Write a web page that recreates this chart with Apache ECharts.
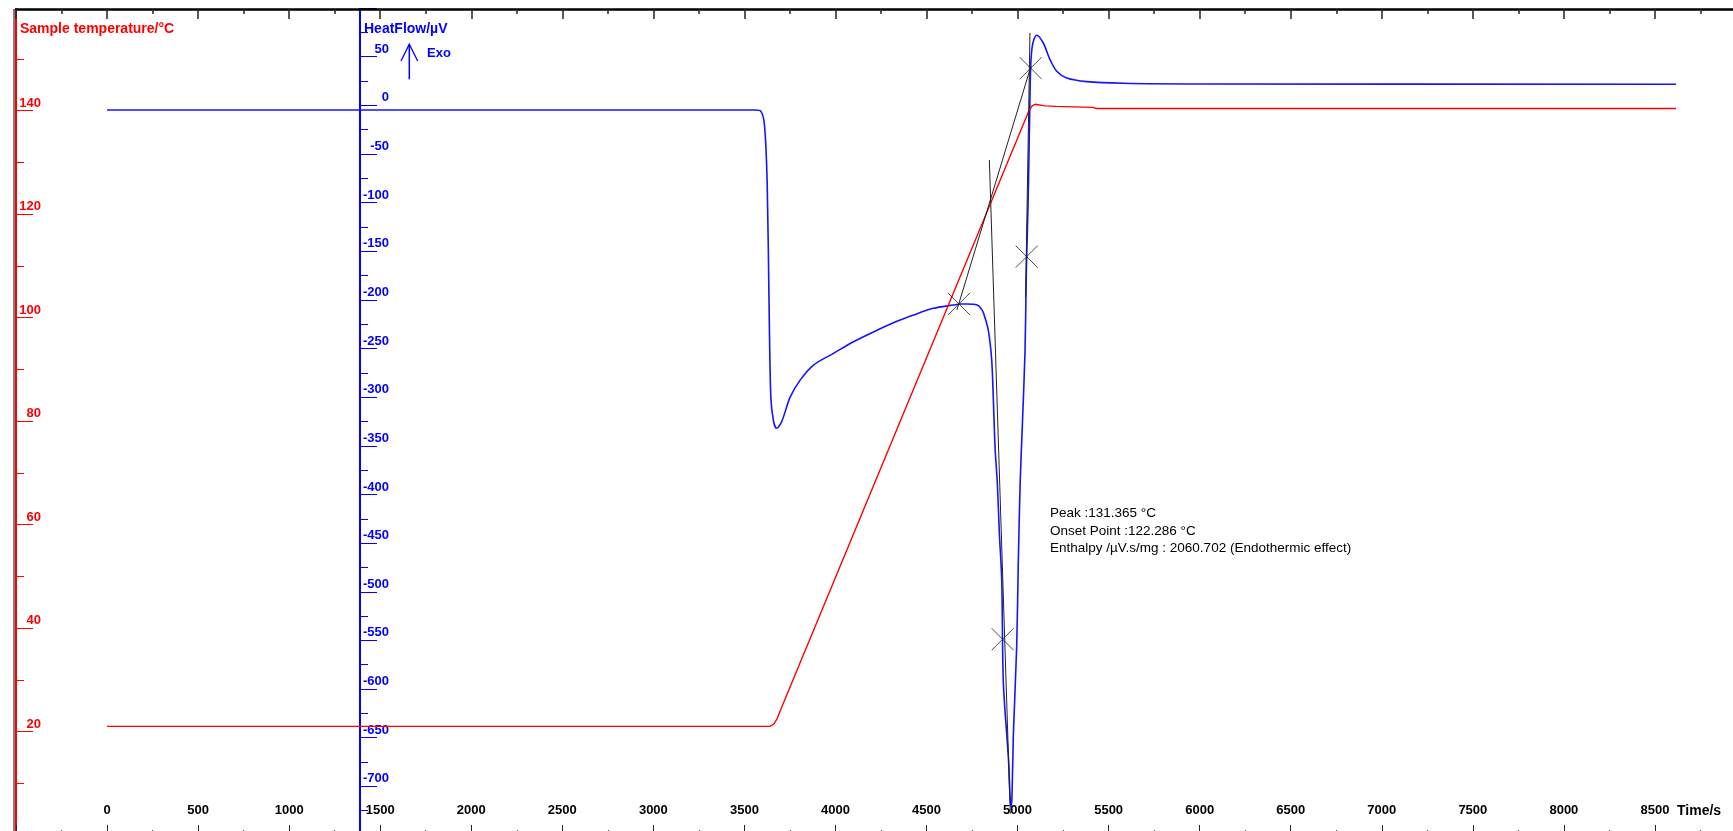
<!DOCTYPE html>
<html>
<head>
<meta charset="utf-8">
<script src="https://cdn.jsdelivr.net/npm/echarts@6/dist/echarts.min.js"></script>
<style>
html,body{margin:0;padding:0;background:#fff;}
#chart{width:1733px;height:831px;}
</style>
</head>
<body>
<div id="chart"></div>
<script>
// ---- data ----
const heatTime = [0, 3560, 3590, 3610, 3625, 3635, 3645, 3660, 3677, 3705, 3751, 3806, 3879, 3989, 4099, 4208, 4318, 4428, 4538, 4648, 4684, 4721, 4758, 4785, 4803, 4812, 4839, 4858, 4867, 4877, 4889, 4900, 4913, 4922, 4950, 4959, 4964, 4969, 4977, 4995, 5004, 5014, 5028, 5041, 5047, 5050, 5058, 5066, 5072, 5083, 5105, 5141, 5178, 5215, 5270, 5380, 5581, 6002, 8616];
const heatFlow = [-4.8, -4.8, -6, -20, -80, -200, -300, -325, -332, -325, -300, -282.5, -267, -255, -243, -233, -223.5, -215.6, -208.7, -205.3, -204.3, -204.3, -204.5, -206, -210, -213, -231, -262, -303, -354, -389, -440, -488, -594, -672, -712, -721, -712, -646, -557, -470, -389, -320, -252, -183, -156, -98, -15, 40, 63, 72, 64, 47, 35, 28, 24.3, 22.6, 21.9, 21.6];

const tempTime = [0, 3641, 3660, 3680, 3700, 5063, 5080, 5096, 5150, 5212, 5414, 5430, 8616];
const tempValue = [21.0, 21.0, 21.4, 22.5, 24.3, 140, 140.9, 141.2, 140.9, 140.8, 140.6, 140.4, 140.4];

// tangent construction lines (time, heat flow)
const tangentA = [[4845, -56.2], [4960, -728]];
const tangentB = [[5068, 74.4], [5044, -197]];
const tangentC = [[4667, -210.3], [5074, 40.4]];
const markerTime = [4678, 5072, 5050, 4918];
const markerFlow = [-204.2, 38.1, -155.6, -548.8];

// tick labels
const timeTicks = [0, 500, 1000, 1500, 2000, 2500, 3000, 3500, 4000, 4500, 5000, 5500, 6000, 6500, 7000, 7500, 8000, 8500];
const tempTicks = [20, 40, 60, 80, 100, 120, 140];
const flowTicks = [50, 0, -50, -100, -150, -200, -250, -300, -350, -400, -450, -500, -550, -600, -650, -700];

const annotation = [
  'Peak :131.365 °C',
  'Onset Point :122.286 °C',
  'Enthalpy /µV.s/mg : 2060.702 (Endothermic effect)'
];

// ---- chart ----
const FONT = '"Liberation Sans", Arial, sans-serif';
const RED = '#ff0000';
const BLUE = '#0000ff';
const zip = (a, b) => a.map((v, i) => [v, b[i]]);

const chart = echarts.init(document.getElementById('chart'), null, {renderer: 'canvas'});

const option = {
  animation: false,
  backgroundColor: '#ffffff',
  grid: {left: 16, right: -13, top: 7, bottom: -4, containLabel: false, outerBoundsMode: 'none'},
  xAxis: [
    {
      type: 'value', position: 'bottom', min: -500, max: 9000, interval: 500,
      axisLine: {show: false, onZero: false},
      axisTick: {show: true, inside: true, length: 10, lineStyle: {color: '#222', width: 1}},
      minorTick: {show: true, splitNumber: 2, length: 5, lineStyle: {color: '#444', width: 1}},
      splitLine: {show: false},
      axisLabel: {
        inside: true, margin: 25, verticalAlign: 'middle',
        color: '#000', fontFamily: FONT, fontWeight: 'bold', fontSize: 13,
        formatter: v => timeTicks.includes(v) ? String(v) : ''
      }
    },
    {
      type: 'value', position: 'top', min: -500, max: 9000, interval: 500, offset: -2, z: 200,
      axisLine: {show: true, onZero: false, lineStyle: {color: '#000', width: 2.5}},
      axisTick: {show: true, inside: true, length: 10, lineStyle: {color: '#222', width: 1.5}},
      minorTick: {show: true, splitNumber: 2, length: 5, lineStyle: {color: '#222', width: 1.5}},
      splitLine: {show: false},
      axisLabel: {show: false}
    }
  ],
  yAxis: [
    {
      type: 'value', position: 'left', min: 0, max: 160, interval: 20,
      axisLine: {show: true, onZero: false, lineStyle: {color: RED, width: 2}},
      axisTick: {show: true, inside: true, length: 17, lineStyle: {color: RED, width: 1}},
      minorTick: {show: true, splitNumber: 2, length: 8, lineStyle: {color: RED, width: 1}},
      splitLine: {show: false},
      axisLabel: {
        inside: true, margin: 25, align: 'right', verticalAlign: 'bottom', lineHeight: 15,
        color: RED, fontFamily: FONT, fontWeight: 'bold', fontSize: 13,
        formatter: v => tempTicks.includes(v) ? String(v) : ''
      }
    },
    {
      type: 'value', position: 'left', offset: -344, min: -750, max: 101, interval: 50,
      axisLine: {show: true, onZero: false, lineStyle: {color: BLUE, width: 2}},
      axisTick: {show: true, inside: true, length: 17, lineStyle: {color: BLUE, width: 1}},
      minorTick: {show: true, splitNumber: 2, length: 8, lineStyle: {color: BLUE, width: 1}},
      splitLine: {show: false},
      axisLabel: {
        inside: true, margin: 29, align: 'right', verticalAlign: 'bottom', lineHeight: 15,
        color: BLUE, fontFamily: FONT, fontWeight: 'bold', fontSize: 13,
        formatter: v => flowTicks.includes(v) ? String(v) : ''
      }
    }
  ],
  series: [
    {
      name: 'HeatFlow', type: 'line', xAxisIndex: 0, yAxisIndex: 1,
      data: zip(heatTime, heatFlow), showSymbol: false, smooth: 0.3, silent: true,
      lineStyle: {color: '#1414ff', width: 1.6}, z: 2
    },
    {
      name: 'Sample temperature', type: 'line', xAxisIndex: 0, yAxisIndex: 0,
      data: zip(tempTime, tempValue), showSymbol: false, silent: true,
      lineStyle: {color: RED, width: 1.4}, z: 2
    },
    {
      type: 'line', xAxisIndex: 0, yAxisIndex: 1, data: tangentA, showSymbol: false, silent: true,
      lineStyle: {color: '#222', width: 1}, z: 3
    },
    {
      type: 'line', xAxisIndex: 0, yAxisIndex: 1, data: tangentB, showSymbol: false, silent: true,
      lineStyle: {color: '#222', width: 1}, z: 3
    },
    {
      type: 'line', xAxisIndex: 0, yAxisIndex: 1, data: tangentC, showSymbol: false, silent: true,
      lineStyle: {color: '#222', width: 1}, z: 3
    },
    {
      type: 'scatter', xAxisIndex: 0, yAxisIndex: 1, data: zip(markerTime, markerFlow), silent: true,
      symbol: 'path://M0 0L10 10M10 0L0 10', symbolSize: 22,
      itemStyle: {color: 'transparent', borderColor: '#222', borderWidth: 1}, z: 4
    }
  ],
  graphic: [
    {type: 'rect', z: 100, shape: {x: 0, y: 0, width: 1733, height: 8}, style: {fill: '#fff'}, silent: true},
    {type: 'line', z: 100, shape: {x1: 14, y1: 9, x2: 14, y2: 831}, style: {stroke: '#000', lineWidth: 1}, silent: true},
    {type: 'text', x: 20, y: 29, style: {text: 'Sample temperature/°C', fill: RED, font: 'bold 14px ' + FONT, verticalAlign: 'middle'}, silent: true},
    {type: 'text', x: 364, y: 29, style: {text: 'HeatFlow/µV', fill: BLUE, font: 'bold 14px ' + FONT, verticalAlign: 'middle'}, silent: true},
    {type: 'polyline', shape: {points: [[401, 61], [409.3, 44.3], [417.7, 61]]}, style: {stroke: BLUE, lineWidth: 1.3, fill: null}, silent: true},
    {type: 'line', shape: {x1: 409.3, y1: 44.3, x2: 409.3, y2: 79.3}, style: {stroke: BLUE, lineWidth: 1.5}, silent: true},
    {type: 'text', x: 427, y: 53.5, style: {text: 'Exo', fill: BLUE, font: 'bold 13px ' + FONT, verticalAlign: 'middle'}, silent: true},
    {type: 'text', x: 1677, y: 811, style: {text: 'Time/s', fill: '#000', font: 'bold 14px ' + FONT, verticalAlign: 'middle'}, silent: true},
    {type: 'text', x: 1050, y: 513.5, style: {text: annotation[0], fill: '#000', font: '13.5px ' + FONT, verticalAlign: 'middle'}, silent: true},
    {type: 'text', x: 1050, y: 531, style: {text: annotation[1], fill: '#000', font: '13.5px ' + FONT, verticalAlign: 'middle'}, silent: true},
    {type: 'text', x: 1050, y: 548.5, style: {text: annotation[2], fill: '#000', font: '13.5px ' + FONT, verticalAlign: 'middle'}, silent: true}
  ]
};
chart.setOption(option);
</script>
</body>
</html>
